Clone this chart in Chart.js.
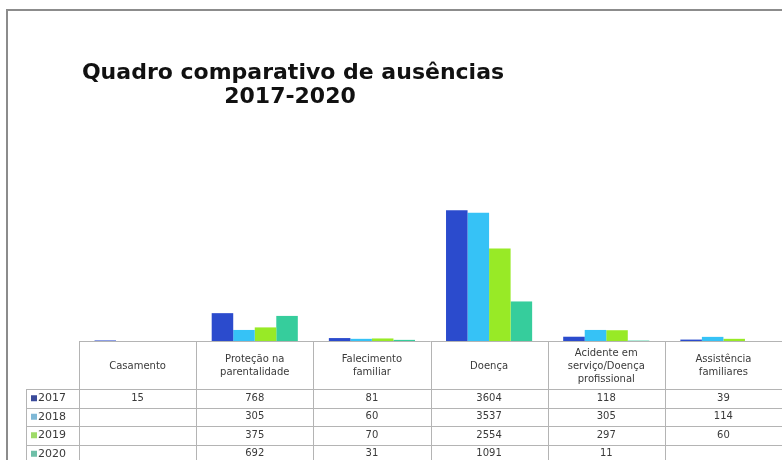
<!DOCTYPE html>
<html>
<head>
<meta charset="utf-8">
<title>Quadro comparativo de ausências</title>
<script src="https://cdn.jsdelivr.net/npm/chart.js@4"></script>
<style>
    html, body { margin: 0; padding: 0; background: #ffffff; }
    #chart-box { width: 782px; height: 460px; }
</style>
</head>
<body>
<div id="chart-box"><canvas id="chart-container"></canvas></div>
<script>
const titleLines = ["Quadro comparativo de ausências", "2017-2020"];
const categories = [
    ["Casamento"],
    ["Proteção na", "parentalidade"],
    ["Falecimento", "familiar"],
    ["Doença"],
    ["Acidente em", "serviço/Doença", "profissional"],
    ["Assistência", "familiares"]
];
const years = ["2017", "2018", "2019", "2020"];
const values2017 = [15, 768, 81, 3604, 118, 39];
const values2018 = [null, 305, 60, 3537, 305, 114];
const values2019 = [null, 375, 70, 2554, 297, 60];
const values2020 = [null, 692, 31, 1091, 11, null];
const yearColors = ["#2b4bcd", "#36c2f6", "#98ea26", "#36cd9c"];
const keyColors = ["#3a4a9a", "#7fb8d6", "#9fdb6a", "#6fbfa8"];

// draws the frame, title and the data table under the plot area
const tablePlugin = {
    id: "dataTable",
    beforeDraw(chart) {
        const ctx = chart.ctx;
        ctx.save();
        ctx.fillStyle = "#ffffff";
        ctx.fillRect(0, 0, chart.width, chart.height);
        ctx.strokeStyle = "#8c8c8c";
        ctx.lineWidth = 2;
        ctx.strokeRect(7, 10, chart.width + 20, chart.height + 20);
        ctx.restore();
    },
    afterDraw(chart) {
        const ctx = chart.ctx;
        const area = chart.chartArea;
        const xScale = chart.scales.x;
        const colWidth = (area.right - area.left) / categories.length;
        const headerBottom = area.bottom + 48;
        const rowHeight = 18.5;
        const keyLeft = 26;

        ctx.save();

        // title
        ctx.fillStyle = "#111111";
        ctx.font = "bold 22px 'DejaVu Sans', Verdana, sans-serif";
        ctx.textAlign = "center";
        ctx.textBaseline = "middle";
        ctx.fillText(titleLines[0], 293, 73);
        ctx.fillText(titleLines[1], 290, 97);

        // grid lines of the table
        ctx.strokeStyle = "#b4b4b4";
        ctx.lineWidth = 1;
        ctx.beginPath();
        ctx.moveTo(area.left, area.bottom + 0.5);
        ctx.lineTo(area.right, area.bottom + 0.5);
        for (let i = 0; i <= categories.length; i++) {
            const x = Math.round(xScale.getPixelForValue(i) - colWidth / 2) + 0.5;
            ctx.moveTo(x, area.bottom);
            ctx.lineTo(x, chart.height);
        }
        for (let r = 0; r < years.length; r++) {
            const y = Math.round(headerBottom + r * rowHeight) + 0.5;
            ctx.moveTo(keyLeft, y);
            ctx.lineTo(area.right, y);
        }
        ctx.moveTo(keyLeft + 0.5, headerBottom);
        ctx.lineTo(keyLeft + 0.5, chart.height);
        ctx.stroke();

        // category headers
        ctx.fillStyle = "#3a3a3a";
        ctx.font = "10px 'DejaVu Sans', Verdana, sans-serif";
        const lineHeight = 13;
        categories.forEach(function (lines, i) {
            const cx = xScale.getPixelForValue(i);
            const cy = (area.bottom + headerBottom) / 2 + 1;
            const startY = cy - (lines.length - 1) * lineHeight / 2;
            lines.forEach(function (line, k) {
                ctx.fillText(line, cx, startY + k * lineHeight);
            });
        });

        // rows with legend keys and values
        chart.data.datasets.forEach(function (dataset, r) {
            const cy = headerBottom + r * rowHeight + rowHeight / 2;
            ctx.fillStyle = keyColors[r];
            ctx.fillRect(keyLeft + 5, cy - 3, 6, 6);
            ctx.fillStyle = "#3a3a3a";
            ctx.textAlign = "left";
            ctx.font = "11px 'DejaVu Sans', Verdana, sans-serif";
            ctx.fillText(dataset.label, keyLeft + 12, cy);
            ctx.textAlign = "center";
            ctx.font = "10px 'DejaVu Sans', Verdana, sans-serif";
            dataset.data.forEach(function (value, i) {
                if (value !== null) {
                    ctx.fillText(String(value), xScale.getPixelForValue(i), cy);
                }
            });
        });

        ctx.restore();
    }
};

function buildDatasets() {
    const series = [values2017, values2018, values2019, values2020];
    return series.map(function (values, i) {
        return {
            label: years[i],
            data: values,
            backgroundColor: yearColors[i],
            borderWidth: 0,
            categoryPercentage: 0.735,
            barPercentage: 1.0
        };
    });
}

document.addEventListener("DOMContentLoaded", function () {
    const ctx = document.getElementById("chart-container").getContext("2d");

    window.myChart = new Chart(ctx, {
        type: "bar",
        data: {
            labels: categories.map(lines => lines.join(" ")),
            datasets: buildDatasets()
        },
        options: {
            responsive: true,
            maintainAspectRatio: false,
            animation: false,
            layout: {
                padding: { top: 196, bottom: 119, left: 79, right: 0 }
            },
            plugins: {
                legend: { display: false },
                title: { display: false },
                tooltip: { enabled: false }
            },
            scales: {
                x: { display: false },
                y: { display: false, min: 0, max: 4000 }
            }
        },
        plugins: [tablePlugin]
    });
});
</script>
</body>
</html>
